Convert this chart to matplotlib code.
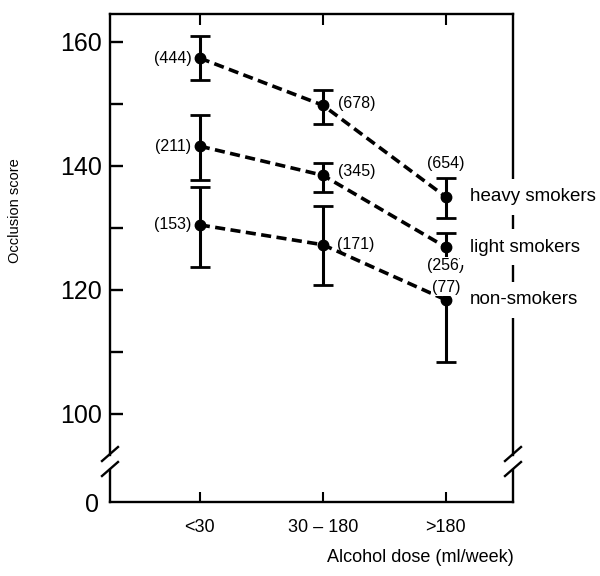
import numpy as np
import matplotlib
matplotlib.use("Agg")
from matplotlib import pyplot as plt
from matplotlib.lines import Line2D

plt.rcParams['font.family'] = ['Liberation Sans', 'DejaVu Sans']

# datos
dosis = ["<30", "30 \u2013 180", ">180"]
grupos = ["heavy smokers", "light smokers", "non-smokers"]

media_heavy = [157.4, 149.8, 135.0]
alto_heavy = [161.0, 152.3, 138.1]
bajo_heavy = [153.9, 146.8, 131.6]
n_heavy = [444, 678, 654]

media_light = [143.2, 138.5, 126.9]
alto_light = [148.2, 140.5, 129.2]
bajo_light = [137.7, 135.8, 124.6]
n_light = [211, 345, 256]

media_non = [130.5, 127.3, 118.4]
alto_non = [136.6, 133.5, 121.0]
bajo_non = [123.7, 120.8, 108.4]
n_non = [153, 171, 77]

W, H = 600, 576
fig = plt.figure(figsize=(6, 5.76), dpi=100)

def fx(px):
    return px / W

def fy(py):
    return 1 - py / H

izq, der = 110, 513
ax = fig.add_axes([fx(izq), fy(455), fx(der - izq), fy(14) - fy(455)])
ax0 = fig.add_axes([fx(izq), fy(502), fx(der - izq), fy(470) - fy(502)])

x = np.arange(len(dosis))
medias = [media_heavy, media_light, media_non]
altos = [alto_heavy, alto_light, alto_non]
bajos = [bajo_heavy, bajo_light, bajo_non]

for m, a, b in zip(medias, altos, bajos):
    m = np.array(m)
    yerr = [m - np.array(b), np.array(a) - m]
    ax.plot(x, m, color="black", lw=2.6, dashes=(2.8, 1.5), zorder=2)
    ax.errorbar(x, m, yerr=yerr, fmt="none", ecolor="black", elinewidth=2.2,
                capsize=7.5, capthick=2.0, zorder=2)
    ax.plot(x, m, "o", color="black", ms=7.5, zorder=3)

# limites
ax.set_xlim(-0.73, 2.545)
ax0.set_xlim(-0.73, 2.545)
ax.set_ylim(160 - (455 - 42) / 6.2, 160 + 28 / 6.2)
ax0.set_ylim(0, 32 / 6.2)

ax.spines['bottom'].set_visible(False)
ax0.spines['top'].set_visible(False)
for s in ax.spines.values():
    s.set_linewidth(1.7)
for s in ax0.spines.values():
    s.set_linewidth(1.7)

ax.set_yticks([100, 110, 120, 130, 140, 150, 160])
ax.set_yticklabels(["100", "", "120", "", "140", "", "160"])
ax.tick_params(axis="y", direction="in", length=9, width=1.7, labelsize=18, pad=6)
ax.set_xticks(x)
ax.tick_params(axis="x", bottom=False, top=True, labelbottom=False,
               direction="in", length=8, width=1.5)

ax0.set_yticks([0])
ax0.set_yticklabels(["0"])
ax0.tick_params(axis="y", length=0, labelsize=18, pad=8)
ax0.set_xticks(x)
ax0.set_xticklabels(dosis)
ax0.tick_params(axis="x", direction="in", length=7, width=1.5, labelsize=13, pad=12)

# numeros de casos
fs = 11.5
ns = [n_heavy, n_light, n_non]
for m, n in zip(medias, ns):
    ax.annotate("(%d)" % n[0], (0, m[0]), xytext=(-6, 0), textcoords="offset points",
                ha="right", va="center", fontsize=fs)
ax.annotate("(%d)" % n_heavy[1], (1, media_heavy[1]), xytext=(11, 1), textcoords="offset points",
            ha="left", va="center", fontsize=fs)
ax.annotate("(%d)" % n_light[1], (1, media_light[1]), xytext=(11, 3), textcoords="offset points",
            ha="left", va="center", fontsize=fs)
ax.annotate("(%d)" % n_non[1], (1, media_non[1]), xytext=(10, 0), textcoords="offset points",
            ha="left", va="center", fontsize=fs)
ax.annotate("(%d)" % n_heavy[2], (2, media_heavy[2]), xytext=(0, 24), textcoords="offset points",
            ha="center", va="center", fontsize=fs)
ax.annotate("(%d)" % n_light[2], (2, media_light[2]), xytext=(0, -13), textcoords="offset points",
            ha="center", va="center", fontsize=fs,
            bbox=dict(boxstyle="square,pad=0.05", fc="white", ec="none"), zorder=4)
ax.annotate("(%d)" % n_non[2], (2, media_non[2]), xytext=(0, 9), textcoords="offset points",
            ha="center", va="center", fontsize=fs,
            bbox=dict(boxstyle="square,pad=0.05", fc="white", ec="none"), zorder=4)

# nombres de grupos
for m, g in zip(medias, grupos):
    ax.annotate(g, (2, m[2]), xytext=(17, 0), textcoords="offset points",
                ha="left", va="center", fontsize=13.5,
                bbox=dict(boxstyle="square,pad=0.5", fc="white", ec="none"), zorder=4)

# cortes del eje
for xp in [izq, der]:
    for yp in [454, 469]:
        fig.add_artist(Line2D([fx(xp - 8), fx(xp + 8)], [fy(yp + 7), fy(yp - 7)],
                              color="black", lw=1.7))

fig.text(fx(15), fy(211), "Occlusion score", rotation=90, ha="center", va="center", fontsize=10.5)
fig.text(fx(420), fy(558), "Alcohol dose (ml/week)", ha="center", va="center", fontsize=13)

fig.savefig("out.png", dpi=100)
